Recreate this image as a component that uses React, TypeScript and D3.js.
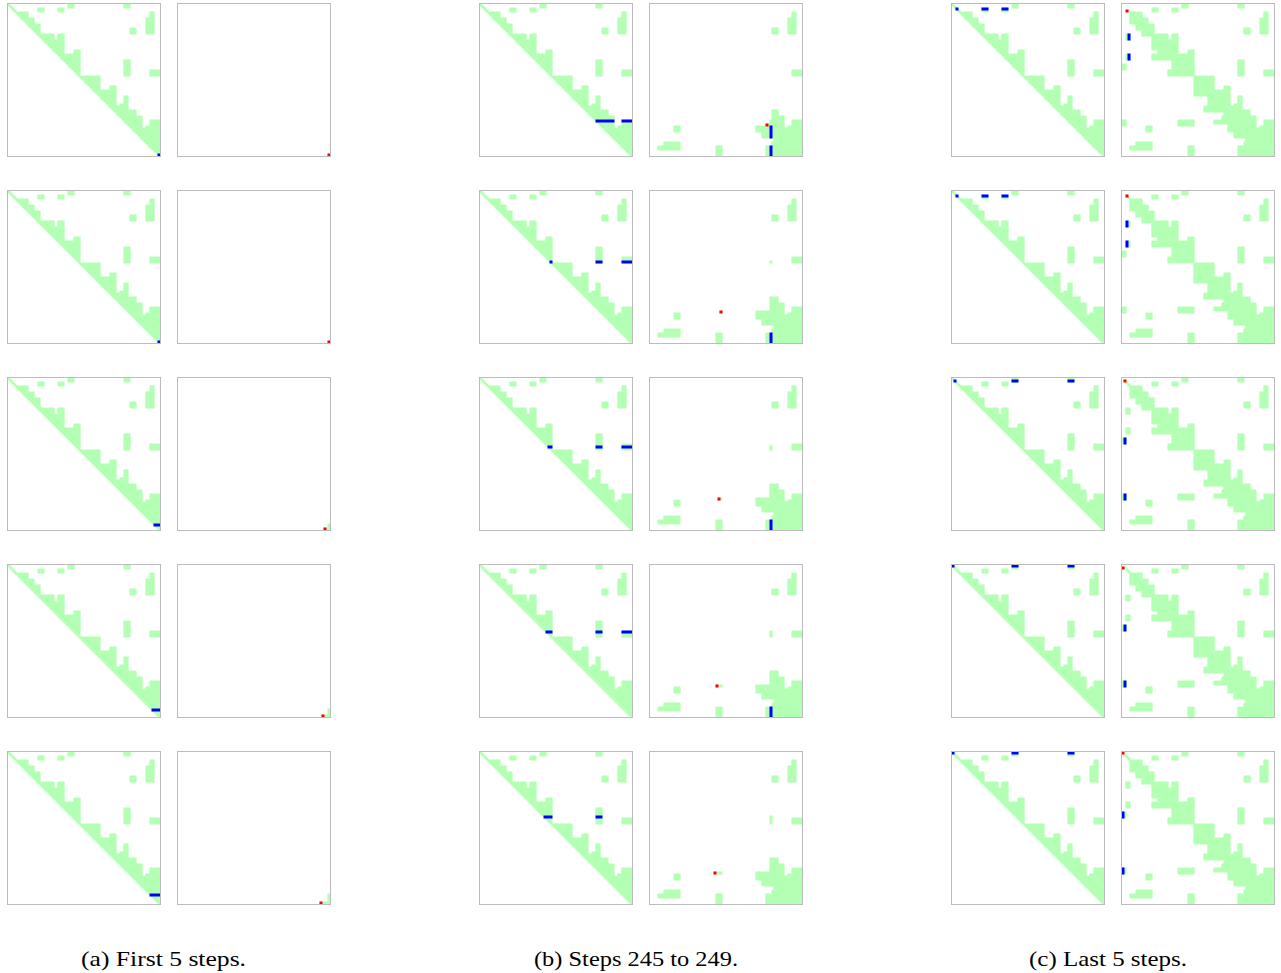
import React from "react";
import * as d3 from "d3";

// Matrix order (cells) and on-screen panel size (px)
const N = 76;
const PANEL = 152;

// Band of the upper factor U: for each column range [start, next start) the first row of the band
const envelopeStart = [0, 4, 10, 13, 16, 23, 25, 28, 33, 36, 46, 51, 54, 56, 58, 60, 64, 67, 69, 71];
const envelopeTop = [4, 4, 7, 10, 15, 18, 15, 25, 23, 36, 43, 41, 51, 50, 46, 53, 56, 62, 61, 58];

// Off-band blocks of U, half-open ranges [rowStart, rowEnd) x [colStart, colEnd)
const blockRowStart = [2, 2, 0, 0, 4, 7, 12, 28, 33];
const blockRowEnd = [4, 4, 2, 2, 7, 15, 15, 36, 36];
const blockColStart = [15, 25, 30, 58, 71, 69, 61, 58, 71];
const blockColEnd = [18, 28, 33, 61, 73, 73, 64, 61, 76];

// Current row K of L and current column j at each shown step
const firstStepsK = [75, 75, 75, 75, 75];
const firstStepsJ = [75, 75, 73, 72, 71];
const middleStepsK = [60, 60, 60, 60, 60];
const middleStepsJ = [58, 35, 34, 33, 32];
const lastStepsK = [3, 2, 1, 1, 0];
const lastStepsJ = [2, 2, 1, 0, 0];

const captions = ["(a) First 5 steps.", "(b) Steps 245 to 249.", "(c) Last 5 steps."];

const GREEN = "#b3ffb3";
const BLUE = "#0000ff";
const RED = "#ff0000";
const BORDER = "#bcbcbc";

type Box = { r0: number; r1: number; c0: number; c1: number };

function buildUpper(): boolean[][] {
  const U = Array.from({ length: N }, () => new Array<boolean>(N).fill(false));
  envelopeStart.forEach((c0, k) => {
    const c1 = k + 1 < envelopeStart.length ? envelopeStart[k + 1] : N;
    for (let c = c0; c < c1; c++) {
      const top = Math.min(envelopeTop[k], c);
      for (let r = top; r <= c; r++) U[r][c] = true;
    }
  });
  blockRowStart.forEach((r0, b) => {
    for (let r = r0; r < blockRowEnd[b]; r++)
      for (let c = blockColStart[b]; c < blockColEnd[b]; c++) U[r][c] = true;
  });
  return U;
}

const U = buildUpper();
const S = (r: number, c: number) => U[r][c] || U[c][r];

// Merge a cell mask into horizontal runs
function rowRuns(mask: (r: number, c: number) => boolean): Box[] {
  const out: Box[] = [];
  for (let r = 0; r < N; r++) {
    let c = 0;
    while (c < N) {
      if (mask(r, c)) {
        const s = c;
        while (c < N && mask(r, c)) c++;
        out.push({ r0: r, r1: r + 1, c0: s, c1: c });
      } else c++;
    }
  }
  return out;
}

// Runs of true entries of a 1-D predicate
function runs1d(pred: (i: number) => boolean, from: number): [number, number][] {
  const out: [number, number][] = [];
  let i = from;
  while (i < N) {
    if (pred(i)) {
      const s = i;
      while (i < N && pred(i)) i++;
      out.push([s, i]);
    } else i++;
  }
  return out;
}

const pos = d3.scaleLinear().domain([0, N]).range([0, PANEL]);

function Cells({ boxes, fill }: { boxes: Box[]; fill: string }) {
  return (
    <>
      {boxes.map((b, i) => (
        <rect
          key={i}
          x={pos(b.c0) - 0.5}
          y={pos(b.r0) - 0.5}
          width={pos(b.c1) - pos(b.c0) + 1}
          height={pos(b.r1) - pos(b.r0) + 1}
          fill={fill}
        />
      ))}
    </>
  );
}

function Panel({ x, y, id, green, blue, red }: { x: number; y: number; id: string; green: Box[]; blue: Box[]; red: Box[] }) {
  return (
    <g transform={`translate(${x},${y})`}>
      <clipPath id={id}>
        <rect x={0} y={0} width={PANEL} height={PANEL} />
      </clipPath>
      <rect x={0} y={0} width={PANEL} height={PANEL} fill="#ffffff" />
      <g clipPath={`url(#${id})`}>
        <Cells boxes={green} fill={GREEN} />
        <Cells boxes={blue} fill={BLUE} />
        <Cells boxes={red} fill={RED} />
      </g>
      <rect x={-0.5} y={-0.5} width={PANEL + 1} height={PANEL + 1} fill="none" stroke={BORDER} strokeWidth={1} />
    </g>
  );
}

const upperRuns = rowRuns((r, c) => U[r][c]);

function stepPanels(K: number, j: number) {
  // left: U with row j highlighted
  const leftBlue: Box[] = runs1d((c) => U[j][c], j).map(([c0, c1]) => ({ r0: j, r1: j + 1, c0, c1 }));
  // right: entries of L computed so far, shown symmetrically
  const done = (r: number, c: number) => {
    if (!S(r, c)) return false;
    const hi = Math.max(r, c);
    const lo = Math.min(r, c);
    return hi > K || (hi === K && lo >= j);
  };
  const rightGreen = rowRuns(done);
  const rightBlue: Box[] = runs1d((i) => i > K && U[j][i], K + 1).map(([r0, r1]) => ({ r0, r1, c0: K, c1: K + 1 }));
  const rightRed: Box[] = [{ r0: K, r1: K + 1, c0: j, c1: j + 1 }];
  return { leftBlue, rightGreen, rightBlue, rightRed };
}

const groups = [
  { K: firstStepsK, J: firstStepsJ },
  { K: middleStepsK, J: middleStepsJ },
  { K: lastStepsK, J: lastStepsJ },
];

const groupLeft = [8, 480, 952];
const RIGHT_OFFSET = 170;
const ROW_TOP = 4;
const ROW_PITCH = 187;
const captionX = [81, 534, 1029];
const captionWidth = [165, 204, 158];

export default function App() {
  return (
    <svg
      width={1281}
      height={973}
      style={{ position: "absolute", left: 0, top: 0, background: "#ffffff" }}
      xmlns="http://www.w3.org/2000/svg"
    >
      <rect x={0} y={0} width={1281} height={973} fill="#ffffff" />
      {groups.map((g, gi) =>
        g.K.map((K, si) => {
          const j = g.J[si];
          const p = stepPanels(K, j);
          const y = ROW_TOP + si * ROW_PITCH;
          return (
            <g key={`${gi}-${si}`}>
              <Panel x={groupLeft[gi]} y={y} id={`cl-${gi}-${si}`} green={upperRuns} blue={p.leftBlue} red={[]} />
              <Panel
                x={groupLeft[gi] + RIGHT_OFFSET}
                y={y}
                id={`cr-${gi}-${si}`}
                green={p.rightGreen}
                blue={p.rightBlue}
                red={p.rightRed}
              />
            </g>
          );
        })
      )}
      {captions.map((t, i) => (
        <text
          key={i}
          x={captionX[i]}
          y={966}
          fontFamily="'Liberation Serif', serif"
          fontSize={22}
          textLength={captionWidth[i]}
          lengthAdjust="spacingAndGlyphs"
          fill="#000000"
        >
          {t}
        </text>
      ))}
    </svg>
  );
}
